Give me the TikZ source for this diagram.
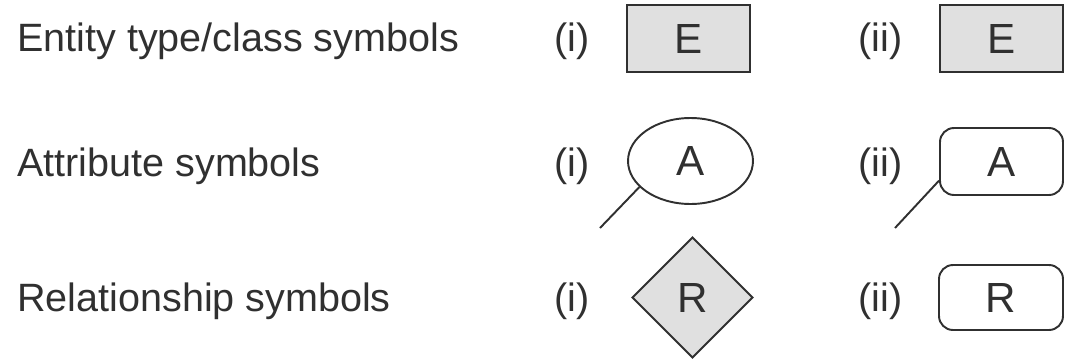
\documentclass[tikz,border=0pt]{standalone}
\usepackage{fontspec}
\setmainfont{Liberation Sans}
\usetikzlibrary{shapes.geometric}

\definecolor{symfill}{HTML}{E0E0E0}
\definecolor{symline}{HTML}{303030}

\tikzset{
    rowlabel/.style={anchor=base west, inner sep=0pt, font=\fontsize{22.5pt}{27pt}\selectfont, text=symline},
    symbox/.style={draw=symline, line width=1.1pt, inner sep=0pt, font=\fontsize{24pt}{28pt}\selectfont, text=symline}
}

\begin{document}
\begin{tikzpicture}[x=0.02cm, y=-0.02cm]
            \useasboundingbox (0,0) rectangle (1066,359);

            \begin{scope}[every node/.style={rowlabel}]
                \node (entlab) at (17,51) {Entity type/class symbols};
                \node (attlab) at (17,176) {Attribute symbols};
                \node (rellab) at (17,311) {Relationship symbols};

                \node (ent1) at (554,51) {(i)};
                \node (att1) at (554,176) {(i)};
                \node (rel1) at (554,311) {(i)};
                \node (ent2) at (858,51) {(ii)};
                \node (att2) at (858,176) {(ii)};
                \node (rel2) at (858,311) {(ii)};
            \end{scope}

            \begin{scope}[every node/.style={symbox}]
                \node[rectangle, fill=symfill, minimum width=2.46cm, minimum height=1.34cm] (E1) at (688.5,38.5) {E};
                \node[rectangle, fill=symfill, minimum width=2.46cm, minimum height=1.34cm] (E2) at (1001.5,38.5) {E};

                \node[ellipse, minimum width=2.5cm, minimum height=1.72cm] (A1) at (690.5,161) {A};
                \node[rectangle, rounded corners=0.28cm, minimum width=2.46cm, minimum height=1.34cm] (A2) at (1001.5,161.5) {A};

                \node[diamond, fill=symfill, minimum width=2.42cm, minimum height=2.42cm] (R1) at (692.5,297.5) {R};
                \node[rectangle, rounded corners=0.28cm, minimum width=2.48cm, minimum height=1.3cm] (R2) at (1001,297.5) {R};
            \end{scope}

            \coordinate (a1end) at (600,228);
            \coordinate (a2end) at (895,228);
            \draw[symline, line width=1.1pt] (A1.207) -- (a1end);
            \draw[symline, line width=1.1pt] (A2.197) -- (a2end);
        \end{tikzpicture}
\end{document}
